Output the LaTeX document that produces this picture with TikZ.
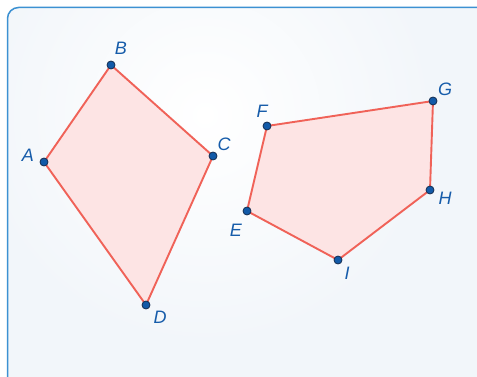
\documentclass[tikz,border=0pt]{standalone}
\usepackage{fontspec}
\setmainfont{Liberation Sans}
\begin{document}
\begin{tikzpicture}[x=1pt,y=-1pt,
  edge/.style={draw=polyred,line width=1.9pt,fill=polyfill,line join=miter},
  pt/.style={circle,fill=dotblue,draw=dotline,line width=0.8pt,inner sep=0pt,minimum size=8pt},
  lab/.style={text=labblue,font=\fontsize{18}{20}\selectfont\itshape,inner sep=0pt}]
\definecolor{polyred}{RGB}{240,98,88}
\definecolor{polyfill}{RGB}{253,228,228}
\definecolor{dotblue}{RGB}{18,90,168}
\definecolor{dotline}{RGB}{20,45,80}
\definecolor{labblue}{RGB}{22,92,170}
\definecolor{frameblue}{RGB}{60,145,210}
\definecolor{bgblue}{RGB}{242,246,250}
\useasboundingbox (0,0) rectangle (477,377);
\fill[white] (0,0) rectangle (477,377);
\begin{scope}
\clip[rounded corners=11pt] (7.5,7.5) rectangle (495,395);
\fill[bgblue] (0,0) rectangle (477,377);
\shade[inner color=white,outer color=bgblue] (205,115) circle (230);
\end{scope}
\draw[frameblue,line width=1.5pt,rounded corners=11pt] (7.5,7.5) rectangle (495,395);
% coordinates
\coordinate (pA) at (44,162);
\coordinate (pB) at (111,65);
\coordinate (pC) at (213,156);
\coordinate (pD) at (146,305);
\coordinate (pE) at (247,211);
\coordinate (pF) at (267,126);
\coordinate (pG) at (433,101);
\coordinate (pH) at (430,190);
\coordinate (pI) at (338,260);
\path[edge] (pA) -- (pB) -- (pC) -- (pD) -- cycle;
\path[edge] (pE) -- (pF) -- (pG) -- (pH) -- (pI) -- cycle;
\foreach \p in {A,B,C,D,E,F,G,H,I} {\node[pt] (d\p) at (p\p) {};}
\node[lab] (lA) at (28,155) {A};
\node[lab] (lB) at (121,48) {B};
\node[lab] (lC) at (224,144) {C};
\node[lab] (lD) at (160,317) {D};
\node[lab] (lE) at (236,230) {E};
\node[lab] (lF) at (262,111) {F};
\node[lab] (lG) at (445,89) {G};
\node[lab] (lH) at (445,198) {H};
\node[lab] (lI) at (347,273) {I};
\end{tikzpicture}
\end{document}
